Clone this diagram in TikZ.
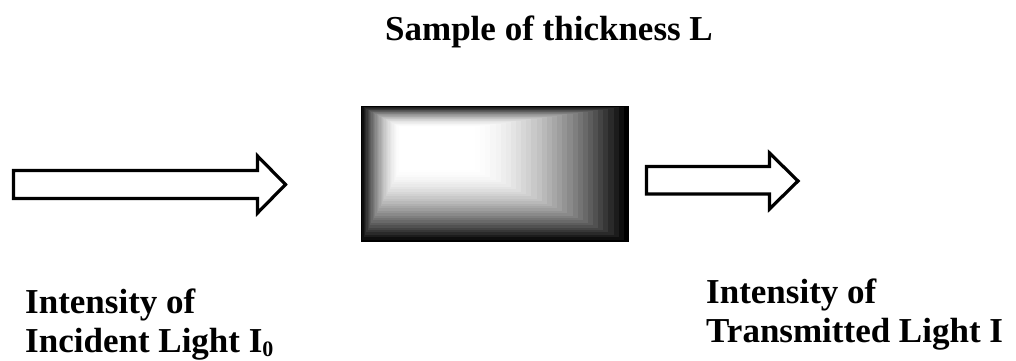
\documentclass[tikz,border=0pt]{standalone}
\usepackage{fontspec}
\setmainfont{Liberation Serif}
\begin{document}
\begin{tikzpicture}[x=1pt,y=-1pt,
  blockarrow/.style={draw=black,line width=3.2pt,line join=miter,fill=white},
  lbl/.style={inner sep=0pt,font=\fontsize{35}{39}\selectfont\bfseries,anchor=base west}]
\useasboundingbox (0,0) rectangle (1016,360);
% block arrows
\draw[blockarrow] (13.5,170.5) -- (257.5,170.5) -- (257.5,156) -- (285.5,184.5) -- (257.5,213) -- (257.5,198.5) -- (13.5,198.5) -- cycle;
\draw[blockarrow] (646.5,166.5) -- (769.5,166.5) -- (769.5,153) -- (798,181) -- (769.5,209) -- (769.5,194) -- (646.5,194) -- cycle;
% shaded sample
\foreach \k in {0,...,30}{
  \pgfmathsetmacro{\xa}{361+39*\k/30}
  \pgfmathsetmacro{\ya}{106+21*\k/30}
  \pgfmathsetmacro{\xb}{629-154*\k/30}
  \pgfmathsetmacro{\yb}{242-72*\k/30}
  \pgfmathsetmacro{\p}{100*(1-\k/30)^1.7}
  \fill[black!\p!white] (\xa,\ya) rectangle (\xb,\yb);
}
\node (sample) at (495,174) [minimum width=268pt,minimum height=136pt,inner sep=0pt] {};
% texts
\node[lbl,anchor=base] (title) at (549,40) {Sample of thickness L};
\node[lbl] (inc) at (25,313) {\begin{tabular}[t]{@{}l@{}}Intensity of\\Incident Light I\raisebox{-4.5pt}{\fontsize{22}{22}\selectfont 0}\end{tabular}};
\node[lbl] (trans) at (706,303) {\begin{tabular}[t]{@{}l@{}}Intensity of\\Transmitted Light I\end{tabular}};
\end{tikzpicture}
\end{document}
